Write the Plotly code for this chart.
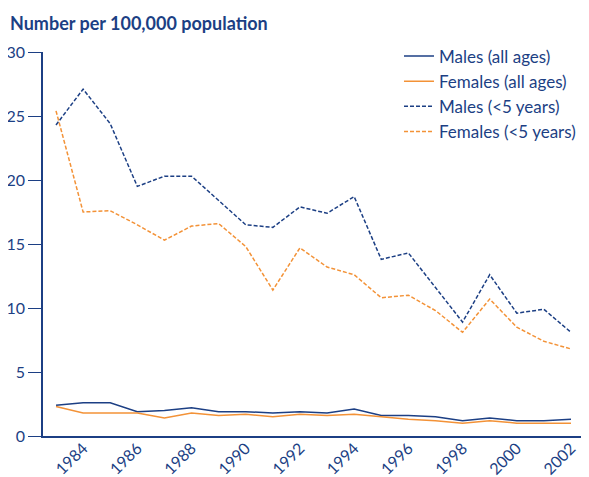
import plotly.graph_objects as go

years = list(range(1983, 2003))
males_all = [2.4, 2.6, 2.6, 1.9, 2.0, 2.2, 1.9, 1.9, 1.8, 1.9, 1.8, 2.1, 1.6, 1.6, 1.5, 1.2, 1.4, 1.2, 1.2, 1.3]
females_all = [2.3, 1.8, 1.8, 1.8, 1.4, 1.8, 1.6, 1.7, 1.5, 1.7, 1.6, 1.7, 1.5, 1.3, 1.2, 1.0, 1.2, 1.0, 1.0, 1.0]
males_u5 = [24.3, 27.1, 24.4, 19.5, 20.3, 20.3, 18.4, 16.5, 16.3, 17.9, 17.4, 18.7, 13.8, 14.3, 11.6, 8.9, 12.6, 9.6, 9.9, 8.1]
females_u5 = [25.4, 17.5, 17.6, 16.5, 15.3, 16.4, 16.6, 14.8, 11.4, 14.7, 13.2, 12.6, 10.8, 11.0, 9.8, 8.1, 10.7, 8.5, 7.4, 6.8]
tick_years = list(range(1984, 2003, 2))
y_ticks = [0, 5, 10, 15, 20, 25, 30]

BLUE = "#1c3f84"
ORANGE = "#f39237"
TEXT = "#1c3f84"
FONT = "Lato"

PW = 541  # plot width in px
PH = 384

fig = go.Figure()
series = [
    ("Males (all ages)", males_all, BLUE, "solid"),
    ("Females (all ages)", females_all, ORANGE, "solid"),
    ("Males (<5 years)", males_u5, BLUE, "4px,2px"),
    ("Females (<5 years)", females_u5, ORANGE, "4px,2px"),
]
for i, (name, vals, col, dash) in enumerate(series):
    fig.add_trace(go.Scatter(x=years, y=vals, mode="lines", name=name, legendgroup=f"g{i}",
                             line=dict(color=col, width=1.5, dash=dash)))

fig.update_layout(
    width=581, height=469,
    margin=dict(l=35, r=5, t=44, b=41, autoexpand=False),
    paper_bgcolor="white", plot_bgcolor="white",
    font=dict(family=FONT, color=TEXT, size=16),
    showlegend=True,
    legend=dict(x=0.658, y=1.035, xanchor="left", yanchor="top", tracegroupgap=0,
                bgcolor="rgba(0,0,0,0)", font=dict(size=17, color=TEXT)),
    annotations=[dict(text="<b>Number per 100,000 population</b>", xref="paper", yref="paper",
                      x=-35 / PW, y=1 + 29 / PH, xanchor="left", yanchor="middle",
                      showarrow=False, font=dict(size=18, color=TEXT, family=FONT))],
)
fig.update_xaxes(range=[1982.52, 2002.48], tickvals=tick_years, ticktext=[str(y) for y in tick_years],
                 tickangle=-45, showgrid=False, zeroline=False, showline=True, automargin=False,
                 linecolor=BLUE, linewidth=1.5, ticks="", ticklabelstandoff=-5,
                 tickfont=dict(size=16, color=TEXT))
fig.update_yaxes(range=[0, 30], tickvals=y_ticks, showgrid=False, zeroline=False, showline=True,
                 automargin=False, linecolor=BLUE, linewidth=1.5, ticks="outside", ticklen=13,
                 tickcolor=BLUE, tickwidth=1, ticklabelstandoff=0, tickfont=dict(size=16, color=TEXT))

fig.write_html("out.html")
